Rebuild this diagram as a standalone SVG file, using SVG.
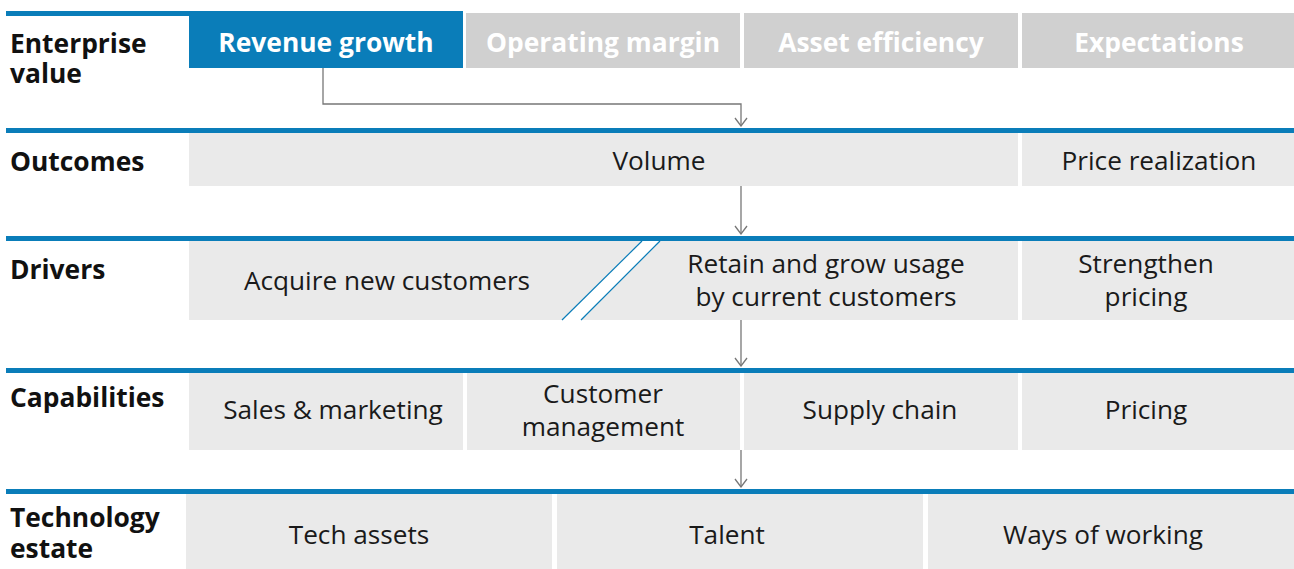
<svg xmlns="http://www.w3.org/2000/svg" width="1294" height="569" viewBox="0 0 1294 569">
<style>
.lbl{font-family:"Open Sans","Noto Sans",sans-serif;font-weight:700;font-size:26.4px;fill:#111}
.hd{font-family:"Open Sans","Noto Sans",sans-serif;font-weight:700;font-size:26.4px;fill:#fff;text-anchor:middle}
.t{font-family:"Open Sans","Noto Sans",sans-serif;font-size:26.2px;fill:#1a1a1a;text-anchor:middle}
.box{fill:#EAEAEA}
.gbox{fill:#D0D0D0}
.sep{fill:#0A7DB9}
.con{fill:none;stroke:#777;stroke-width:1.3}
</style>
<defs>
<marker id="ah" viewBox="0 0 10 14" refX="9" refY="7" markerWidth="10" markerHeight="14" markerUnits="userSpaceOnUse" orient="auto">
<path d="M1,1 L9,7 L1,13" fill="none" stroke="#777" stroke-width="1.3"/>
</marker>
</defs>
<g id="separators">
<rect class="sep" x="6" y="11" width="457" height="5"/>
<rect class="sep" x="6" y="128" width="1288" height="5"/>
<rect class="sep" x="6" y="236" width="1288" height="5"/>
<rect class="sep" x="6" y="368" width="1288" height="5"/>
<rect class="sep" x="6" y="489" width="1288" height="5"/>
</g>
<g id="row-labels">
<text class="lbl" x="10" y="53">Enterprise</text>
<text class="lbl" x="10" y="83">value</text>
<text class="lbl" x="10" y="171">Outcomes</text>
<text class="lbl" x="10" y="279">Drivers</text>
<text class="lbl" x="10" y="407">Capabilities</text>
<text class="lbl" x="10" y="527">Technology</text>
<text class="lbl" x="10" y="558">estate</text>
</g>
<g id="revenue-growth"><rect class="sep" x="189" y="11" width="274" height="57"/><text class="hd" x="326" y="52">Revenue growth</text></g>
<g id="operating-margin"><rect class="gbox" x="466" y="13" width="274" height="55"/><text class="hd" x="603" y="52">Operating margin</text></g>
<g id="asset-efficiency"><rect class="gbox" x="744" y="13" width="274" height="55"/><text class="hd" x="881" y="52">Asset efficiency</text></g>
<g id="expectations"><rect class="gbox" x="1022" y="13" width="272" height="55"/><text class="hd" x="1159" y="52">Expectations</text></g>
<g id="volume"><rect class="box" x="189" y="133" width="829" height="53"/><text class="t" x="659" y="170">Volume</text></g>
<g id="price-realization"><rect class="box" x="1022" y="133" width="272" height="53"/><text class="t" x="1159" y="170">Price realization</text></g>
<g id="acquire"><path class="box" d="M189,241 H642 L562,320 H189 Z"/><text class="t" x="387" y="290">Acquire new customers</text></g>
<g id="retain"><path class="box" d="M660,241 H1018 V320 H581 Z"/><text class="t" x="826" y="273">Retain and grow usage</text><text class="t" x="826" y="306">by current customers</text></g>
<g id="divider"><line x1="642" y1="241" x2="562" y2="320" stroke="#0A7DB9" stroke-width="1.2"/><line x1="660" y1="241" x2="581" y2="320" stroke="#0A7DB9" stroke-width="1.2"/></g>
<g id="strengthen-pricing"><rect class="box" x="1022" y="241" width="272" height="79"/><text class="t" x="1146" y="273">Strengthen</text><text class="t" x="1146" y="306">pricing</text></g>
<g id="sales-marketing"><rect class="box" x="189" y="373" width="274" height="77"/><text class="t" x="333" y="419">Sales &amp; marketing</text></g>
<g id="customer-management"><rect class="box" x="467" y="373" width="273" height="77"/><text class="t" x="603" y="403">Customer</text><text class="t" x="603" y="436">management</text></g>
<g id="supply-chain"><rect class="box" x="744" y="373" width="274" height="77"/><text class="t" x="880" y="419">Supply chain</text></g>
<g id="pricing"><rect class="box" x="1022" y="373" width="272" height="77"/><text class="t" x="1146" y="419">Pricing</text></g>
<g id="tech-assets"><rect class="box" x="186" y="494" width="366" height="75"/><text class="t" x="359" y="544">Tech assets</text></g>
<g id="talent"><rect class="box" x="557" y="494" width="366" height="75"/><text class="t" x="727" y="544">Talent</text></g>
<g id="ways-of-working"><rect class="box" x="928" y="494" width="366" height="75"/><text class="t" x="1103" y="544">Ways of working</text></g>
<g id="connectors">
<path class="con" d="M323,68 V104 H741 V126" marker-end="url(#ah)"/>
<path class="con" d="M741,186 V234" marker-end="url(#ah)"/>
<path class="con" d="M741,320 V366" marker-end="url(#ah)"/>
<path class="con" d="M741,450 V487" marker-end="url(#ah)"/>
</g>
</svg>
